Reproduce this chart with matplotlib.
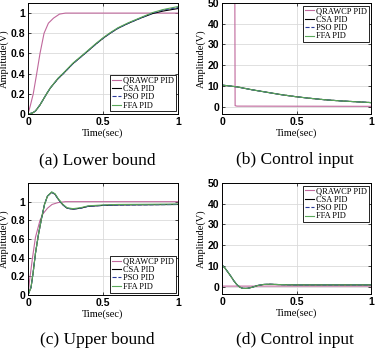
import matplotlib
matplotlib.use("Agg")
import matplotlib.pyplot as plt

# --- (a) Lower bound: step response ---
t_qr_a = [0, 0.015, 0.035, 0.058, 0.08, 0.107, 0.136, 0.17, 0.21, 0.25, 1.0]
y_qr_a = [0, 0.08, 0.2, 0.4, 0.6, 0.8, 0.9, 0.95, 0.99, 1.0, 1.0]
t_slow_a = [0, 0.03, 0.05, 0.08, 0.124, 0.15, 0.2, 0.235, 0.3, 0.38, 0.45,
            0.5, 0.547, 0.6, 0.67, 0.75, 0.83, 0.9, 1.0]
y_csa_a = [0, 0.01, 0.03, 0.09, 0.2, 0.26, 0.35, 0.4, 0.5, 0.6, 0.69,
           0.75, 0.8, 0.85, 0.9, 0.95, 0.995, 1.02, 1.045]
y_pso_a = [0, 0.01, 0.03, 0.09, 0.2, 0.26, 0.35, 0.4, 0.5, 0.6, 0.69,
           0.75, 0.8, 0.85, 0.9, 0.95, 1.0, 1.03, 1.055]
y_ffa_a = [0, 0.01, 0.03, 0.09, 0.2, 0.26, 0.355, 0.405, 0.505, 0.605, 0.695,
           0.755, 0.805, 0.855, 0.905, 0.955, 1.005, 1.035, 1.065]

# --- (b) Lower bound: control input ---
t_qr_b = [0, 0.086, 0.088, 0.1, 1.0]
u_qr_b = [60, 60, 0.5, 0.3, 0.2]
t_slow_b = [0, 0.003, 0.1, 0.2, 0.3, 0.4, 0.5, 0.6, 0.7, 0.8, 0.9, 1.0]
u_csa_b = [22, 10.4, 9.6, 8.2, 7.0, 5.8, 4.8, 4.0, 3.3, 2.8, 2.4, 2.0]
u_pso_b = [22, 10.4, 9.6, 8.2, 7.0, 5.8, 4.8, 4.0, 3.3, 2.8, 2.4, 2.0]
u_ffa_b = [22, 10.4, 9.6, 8.2, 7.0, 5.8, 4.8, 4.0, 3.3, 2.8, 2.4, 2.0]

# --- (c) Upper bound: step response ---
t_qr_c = [0, 0.01, 0.03, 0.05, 0.08, 0.1, 0.13, 0.16, 0.2, 0.25, 1.0]
y_qr_c = [0, 0.15, 0.4, 0.62, 0.8, 0.87, 0.93, 0.97, 0.99, 1.0, 1.0]
t_fast_c = [0, 0.02, 0.035, 0.05, 0.07, 0.09, 0.11, 0.13, 0.158, 0.18, 0.2,
            0.23, 0.26, 0.3, 0.35, 0.4, 0.5, 0.6, 0.8, 1.0]
y_csa_c = [0, 0.08, 0.25, 0.45, 0.65, 0.82, 0.97, 1.06, 1.1, 1.08, 1.03,
           0.97, 0.93, 0.92, 0.93, 0.95, 0.96, 0.965, 0.967, 0.97]
y_pso_c = [0, 0.08, 0.25, 0.45, 0.65, 0.82, 0.97, 1.06, 1.1, 1.08, 1.03,
           0.97, 0.93, 0.92, 0.93, 0.95, 0.96, 0.965, 0.967, 0.97]
y_ffa_c = [0, 0.08, 0.25, 0.45, 0.65, 0.82, 0.97, 1.06, 1.105, 1.085, 1.035,
           0.975, 0.935, 0.925, 0.935, 0.955, 0.965, 0.97, 0.972, 0.975]

# --- (d) Upper bound: control input ---
t_qr_d = [0, 0.003, 0.006, 1.0]
u_qr_d = [60, 0.3, 0.3, 0.3]
t_fast_d = [0, 0.02, 0.04, 0.06, 0.08, 0.1, 0.12, 0.14, 0.17, 0.2, 0.24,
            0.28, 0.32, 0.36, 0.4, 0.5, 0.7, 1.0]
u_csa_d = [10.5, 9.0, 7.0, 5.0, 2.8, 1.0, -0.2, -0.8, -0.8, -0.3, 0.6,
           1.1, 1.2, 1.1, 1.0, 0.9, 0.9, 0.9]
u_pso_d = [10.5, 9.0, 7.0, 5.0, 2.8, 1.0, -0.2, -0.8, -0.8, -0.3, 0.6,
           1.1, 1.2, 1.1, 1.0, 0.9, 0.9, 0.9]
u_ffa_d = [10.5, 9.0, 7.0, 5.0, 2.8, 1.0, -0.2, -0.8, -0.8, -0.3, 0.6,
           1.1, 1.2, 1.1, 1.0, 0.9, 0.9, 0.9]

labels = ["QRAWCP PID", "CSA PID", "PSO PID", "FFA PID"]
colors = ["#c0689c", "black", "#2a3a9a", "#5aa85a"]
styles = ["-", "-", "--", "-"]

captions = ["(a) Lower bound", "(b) Control input", "(c) Upper bound", "(d) Control input"]

W, H = 375, 349


def setup_axes(ax, ylim, yticks, yticklabels):
    ax.set_xlim(0, 1)
    ax.set_ylim(*ylim)
    ax.set_xticks([0, 0.5, 1])
    ax.set_xticklabels(["0", "0.5", "1"])
    ax.set_yticks(yticks)
    ax.set_yticklabels(yticklabels)
    for lab in ax.get_xticklabels() + ax.get_yticklabels():
        lab.set_fontfamily("Liberation Sans")
        lab.set_fontweight("bold")
        lab.set_fontsize(7.5)
    ax.tick_params(direction="in", length=2, width=0.5, pad=2, top=True, right=True)
    ax.grid(True, color="#dadada", linewidth=0.6)
    ax.set_axisbelow(True)
    for sp in ax.spines.values():
        sp.set_linewidth(0.7)
    ax.set_xlabel("Time(sec)", fontfamily="Liberation Serif", fontsize=7.5, labelpad=1)
    ax.set_ylabel("Amplitude(V)", fontfamily="Liberation Serif", fontsize=7.5, labelpad=1)


def main() -> None:
    fig = plt.figure(figsize=(W / 100, H / 100), dpi=100)

    boxes = [(28, 3, 178, 114), (222, 3, 371, 114), (28, 183, 178, 295), (222, 183, 371, 294)]
    axes = []
    for (x0, y0, x1, y1) in boxes:
        axes.append(fig.add_axes([x0 / W, 1 - y1 / H, (x1 - x0) / W, (y1 - y0) / H]))

    panels = [
        (t_qr_a, y_qr_a, t_slow_a, [y_csa_a, y_pso_a, y_ffa_a]),
        (t_qr_b, u_qr_b, t_slow_b, [u_csa_b, u_pso_b, u_ffa_b]),
        (t_qr_c, y_qr_c, t_fast_c, [y_csa_c, y_pso_c, y_ffa_c]),
        (t_qr_d, u_qr_d, t_fast_d, [u_csa_d, u_pso_d, u_ffa_d]),
    ]

    step_ticks = [0, 0.2, 0.4, 0.6, 0.8, 1.0]
    step_labels = ["0", "0.2", "0.4", "0.6", "0.8", "1"]
    u_ticks = [0, 10, 20, 30, 40, 50]
    u_labels = ["0", "10", "20", "30", "40", "50"]
    limits = [(0, 1.1), (-3.5, 50), (0, 1.2), (-3.5, 50)]

    for i, ax in enumerate(axes):
        tq, yq, ts, ys = panels[i]
        ax.plot(tq, yq, color=colors[0], linestyle=styles[0], linewidth=0.8, label=labels[0])
        for k in range(3):
            ax.plot(ts, ys[k], color=colors[k + 1], linestyle=styles[k + 1],
                    linewidth=0.8, label=labels[k + 1])
        if i in (0, 2):
            setup_axes(ax, limits[i], step_ticks, step_labels)
            loc = "lower right"
        else:
            setup_axes(ax, limits[i], u_ticks, u_labels)
            loc = "upper right"
        leg = ax.legend(loc=loc, prop={"family": "Liberation Serif", "size": 6},
                        handlelength=1.1, handletextpad=0.2, labelspacing=0.05,
                        borderpad=0.2, borderaxespad=0.3, fancybox=False,
                        framealpha=1, edgecolor="black")
        leg.get_frame().set_linewidth(0.6)

    cap_pos = [(97, 160), (295, 160), (97, 340), (295, 340)]
    for (cx, cy), text in zip(cap_pos, captions):
        fig.text(cx / W, 1 - cy / H, text, ha="center", va="center",
                 fontfamily="Liberation Serif", fontsize=12.5)

    fig.savefig("out.png", dpi=100)


if __name__ == "__main__":
    main()
